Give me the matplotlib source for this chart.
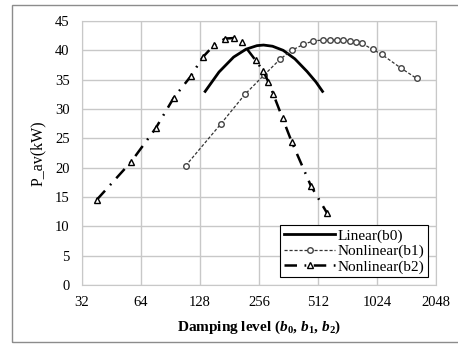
import matplotlib
matplotlib.use('Agg')
import matplotlib.pyplot as plt
from matplotlib.patches import Rectangle

plt.rcParams['font.family'] = 'Liberation Serif'
plt.rcParams['mathtext.fontset'] = 'custom'
plt.rcParams['mathtext.it'] = 'Liberation Serif:bold:italic'
plt.rcParams['mathtext.rm'] = 'Liberation Serif:bold'
plt.rcParams['mathtext.bf'] = 'Liberation Serif:bold'

# Linear(b0) - smooth curve
b0_x = [136, 160, 190, 220, 250, 270, 300, 340, 390, 450, 500, 540]
b0_y = [33.0, 36.3, 38.85, 40.2, 40.8, 40.9, 40.7, 40.0, 38.55, 36.4, 34.6, 33.0]

# Nonlinear(b1)
b1_x = [108, 163, 217, 272, 327, 376, 431, 484, 541, 590, 638, 689, 746,
        800, 856, 974, 1083, 1353, 1633]
b1_y = [20.3, 27.4, 32.5, 35.8, 38.45, 40.0, 41.0, 41.6, 41.75, 41.75, 41.75,
        41.7, 41.55, 41.4, 41.2, 40.15, 39.3, 37.0, 35.2]

# Nonlinear(b2)
b2_x = [38, 57, 76, 94, 115, 132, 151, 172, 191, 209, 246, 269, 286, 303,
        338, 376, 471, 571]
b2_y = [14.5, 21.0, 26.7, 31.9, 35.6, 38.8, 40.9, 42.0, 42.1, 41.4, 38.3,
        36.5, 34.6, 32.5, 28.4, 24.4, 16.9, 12.2]

x_ticks = [32, 64, 128, 256, 512, 1024, 2048]
y_ticks = [0, 5, 10, 15, 20, 25, 30, 35, 40, 45]

fig = plt.figure(figsize=(4.58, 3.45), dpi=100)
ax = fig.add_axes([82/458, 1 - 285/345, (436-82)/458, (285-21)/345])

# chart border like the Excel frame
fig.patches.append(Rectangle((12/458, 3/345), 1.0, 337/345, transform=fig.transFigure,
                             fill=False, edgecolor='#8c8c8c', lw=1.0))

ax.plot(b0_x, b0_y, color='black', lw=2.0, label='Linear(b0)')
ax.plot(b1_x, b1_y, color='#333333', lw=0.9, ls=(0, (2.5, 1.5)), marker='o',
        markersize=4, markerfacecolor='white', markeredgecolor='#444444',
        markeredgewidth=1.0, label='Nonlinear(b1)')
ax.plot(b2_x, b2_y, color='black', lw=1.8, ls=(0, (5, 3, 0.7, 3)), marker='^',
        markersize=4, markerfacecolor='white', markeredgecolor='black',
        markeredgewidth=1.0, label='Nonlinear(b2)')

ax.set_xscale('log', base=2)
ax.set_xlim(32, 2048)
ax.set_ylim(0, 45)
ax.set_xticks(x_ticks)
ax.set_xticklabels([str(t) for t in x_ticks])
ax.minorticks_off()
ax.set_yticks(y_ticks)
ax.tick_params(length=0, labelsize=10.5)
ax.tick_params(axis='y', pad=9)
ax.tick_params(axis='x', pad=8)
ax.grid(True, color='#c8c8c8', lw=1.0)
ax.set_axisbelow(True)
for s in ax.spines.values():
    s.set_color('#c8c8c8')

ax.set_ylabel('P_av(kW)', fontsize=11.5, labelpad=6)
ax.set_xlabel(r'Damping level ($b_0$, $b_1$, $b_2$)', fontsize=11,
              fontweight='bold', labelpad=7)

leg = ax.legend(loc='lower right', fontsize=11, frameon=True, fancybox=False,
                edgecolor='black', framealpha=1, handlelength=3.3,
                handletextpad=0.2, borderpad=0.25, labelspacing=0.1,
                borderaxespad=0.5)
leg.get_frame().set_linewidth(0.8)

fig.savefig('out.png', dpi=100)
